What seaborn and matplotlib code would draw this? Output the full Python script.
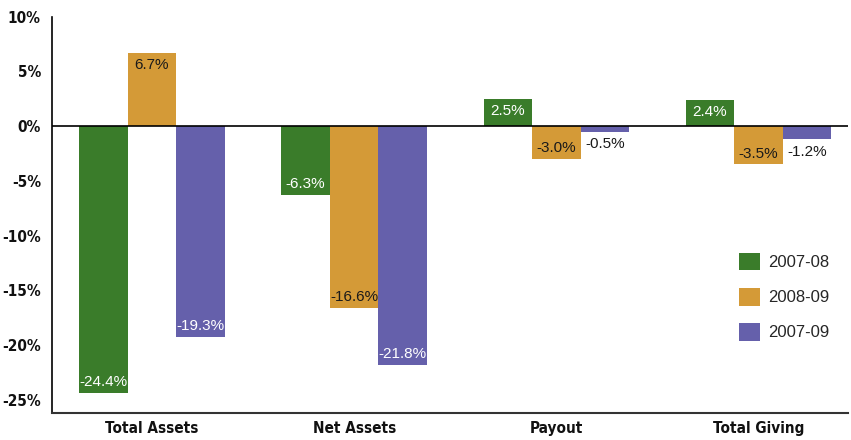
import pandas as pd
import seaborn as sns
import matplotlib.pyplot as plt

categories = ["Total Assets", "Net Assets", "Payout", "Total Giving"]
periods = ["2007-08", "2008-09", "2007-09"]
change_0708 = [-24.4, -6.3, 2.5, 2.4]
change_0809 = [6.7, -16.6, -3.0, -3.5]
change_0709 = [-19.3, -21.8, -0.5, -1.2]
y_ticks = [10, 5, 0, -5, -10, -15, -20, -25]

colors = ["#3a7c2a", "#d49a37", "#6560ab"]
text_colors = ["white", "#1a1a1a", "white"]

rows = []
for p, vals in zip(periods, [change_0708, change_0809, change_0709]):
    for c, v in zip(categories, vals):
        rows.append({"category": c, "period": p, "value": v})
df = pd.DataFrame(rows)

sns.set_style("white")
plt.rcParams["font.family"] = ["Liberation Sans", "DejaVu Sans"]

fig, ax = plt.subplots(figsize=(8.51, 4.40), dpi=100)
fig.subplots_adjust(left=0.061, right=0.997, top=0.962, bottom=0.062)

sns.barplot(data=df, x="category", y="value", hue="period", order=categories,
            hue_order=periods, palette=colors, width=0.72, saturation=1,
            linewidth=0, ax=ax)

ax.axhline(0, color="black", lw=1.2, zorder=5)
ax.set_ylim(-26.2, 10)
ax.set_xlim(-0.495, 3.445)
ax.set_yticks(y_ticks)
ax.set_yticklabels([f"{t}%" for t in y_ticks])
ax.set_xticklabels(categories)
for t in ax.get_yticklabels() + ax.get_xticklabels():
    t.set_family("DejaVu Sans")
    t.set_stretch("condensed")
    t.set_fontweight("bold")
    t.set_fontsize(11)
    t.set_color("#111111")
ax.set_xlabel("")
ax.set_ylabel("")
ax.tick_params(axis="y", length=0, pad=8)
ax.tick_params(axis="x", length=0, pad=6)
for s in ["top", "right"]:
    ax.spines[s].set_visible(False)
ax.spines["left"].set_color("black")
ax.spines["bottom"].set_color("#333333")
ax.spines["left"].set_linewidth(1.2)
ax.spines["bottom"].set_linewidth(1.5)

for i, container in enumerate(ax.containers):
    for bar, v in zip(container, container.datavalues):
        x = bar.get_x() + bar.get_width() / 2
        label = f"{v:.1f}%"
        if abs(v) < 2:
            ax.text(x, v - 0.5, label, ha="center", va="top", fontsize=11,
                    color="#1a1a1a", zorder=6)
        elif v > 0:
            ax.text(x, v - 0.5, label, ha="center", va="top", fontsize=11,
                    color=text_colors[i], zorder=6)
        else:
            ax.text(x, v + 0.35, label, ha="center", va="bottom", fontsize=11,
                    color=text_colors[i], zorder=6)

ax.legend(frameon=False, loc="center left", bbox_to_anchor=(0.862, 0.293),
          borderaxespad=0, borderpad=0, fontsize=12, handlelength=1.3,
          handleheight=1.25, labelspacing=1.05, handletextpad=0.45)

fig.savefig("out.png", dpi=100)
